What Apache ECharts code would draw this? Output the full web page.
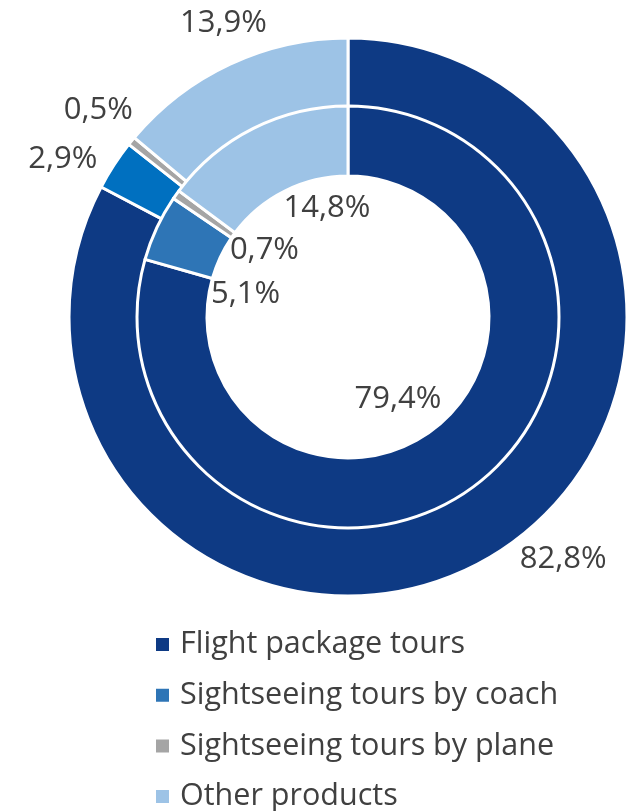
<!DOCTYPE html>
<html>
<head>
<meta charset="utf-8">
<script src="https://cdn.jsdelivr.net/npm/echarts@6/dist/echarts.min.js"></script>
<style>
  html, body { margin: 0; padding: 0; background: #ffffff; }
  #chart { width: 632px; height: 811px; }
</style>
</head>
<body>
<div id="chart"></div>
<script>
// Product mix: outer ring and inner ring shares (percent)
const categories = ['Flight package tours', 'Sightseeing tours by coach', 'Sightseeing tours by plane', 'Other products'];
const outerShares = [82.8, 2.9, 0.5, 13.9];
const innerShares = [79.4, 5.1, 0.7, 14.8];

const outerColors = ['#0E3A84', '#0070C0', '#A5A5A5', '#9DC3E6'];
const innerColors = ['#0E3A84', '#2E75B6', '#A5A5A5', '#9DC3E6'];
const legendColors = ['#0E3A84', '#2E75B6', '#A5A5A5', '#9DC3E6'];

const CX = 348, CY = 317;
const FONT = '"Open Sans", "Noto Sans", sans-serif';
const TEXT = '#404040';

// Label placement: angular nudge (deg, clockwise) from the slice middle, and distance from centre
const outerLabelShift = [-10.5, -4, 0.5, 2];
const outerLabelRadius = [324, 326, 324, 319];
const innerLabelShift = [5.7, -12.4, 3.2, 15.7];
const innerLabelRadius = [96, 105, 107, 111];

function midAngle(values, i) {
  const total = values.reduce((a, b) => a + b, 0);
  let before = 0;
  for (let k = 0; k < i; k++) before += values[k];
  return (before + values[i] / 2) / total * 360;
}

function fmt(v) {
  return v.toFixed(1).replace('.', ',') + '%';
}

function placeLabel(values, shifts, radii) {
  return function (params) {
    const i = params.dataIndex;
    const a = (midAngle(values, i) + shifts[i]) * Math.PI / 180;
    return {
      x: CX + radii[i] * Math.sin(a),
      y: CY - radii[i] * Math.cos(a),
      align: 'center',
      verticalAlign: 'middle'
    };
  };
}

function ringData(values, colors) {
  return categories.map((name, i) => ({
    name: name,
    value: values[i],
    itemStyle: { color: colors[i] }
  }));
}

const labelStyle = {
  show: true,
  position: 'outside',
  formatter: (p) => fmt(p.value),
  fontFamily: FONT,
  fontSize: 31,
  color: TEXT,
  overflow: 'none',
  width: 120
};

// One stacked legend row per category
const LEGEND_TOP = 629, LEGEND_STEP = 50.7;
const legends = categories.map((name, i) => ({
  orient: 'vertical',
  left: 154,
  top: LEGEND_TOP + i * LEGEND_STEP,
  padding: 0,
  itemWidth: 15,
  itemHeight: 15,
  icon: 'rect',
  selectedMode: false,
  textStyle: { fontFamily: FONT, fontSize: 30.5, color: TEXT, lineHeight: 30, padding: [0, 0, 0, 5] },
  data: [{ name: name, itemStyle: { color: legendColors[i] } }]
}));

const chart = echarts.init(document.getElementById('chart'), null, { renderer: 'canvas' });

chart.setOption({
  animation: false,
  legend: legends,
  series: [
    {
      name: 'Outer',
      type: 'pie',
      center: [CX, CY],
      radius: [210, 279],
      startAngle: 90,
      clockwise: true,
      silent: true,
      itemStyle: { borderColor: '#ffffff', borderWidth: 3 },
      label: labelStyle,
      labelLine: { show: false },
      labelLayout: placeLabel(outerShares, outerLabelShift, outerLabelRadius),
      data: ringData(outerShares, outerColors)
    },
    {
      name: 'Inner',
      type: 'pie',
      center: [CX, CY],
      radius: [141, 211],
      startAngle: 90,
      clockwise: true,
      silent: true,
      itemStyle: { borderColor: '#ffffff', borderWidth: 3 },
      label: labelStyle,
      labelLine: { show: false },
      labelLayout: placeLabel(innerShares, innerLabelShift, innerLabelRadius),
      data: ringData(innerShares, innerColors)
    }
  ]
});
</script>
</body>
</html>
